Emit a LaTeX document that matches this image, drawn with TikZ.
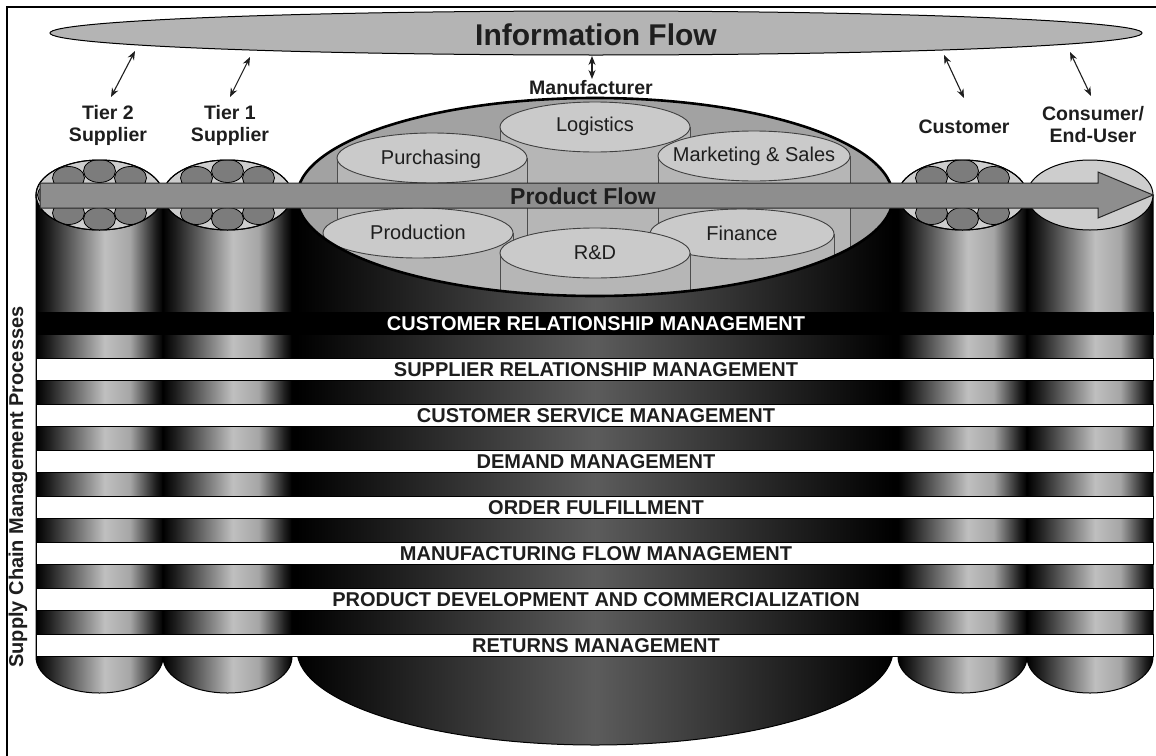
\documentclass[tikz,border=0pt]{standalone}
\usepackage{fontspec}
\setmainfont{Liberation Sans}
\usetikzlibrary{arrows.meta}
\pgfdeclarehorizontalshading{smallcylshade}{100bp}{color(0bp)=(black); color(25bp)=(black); color(30bp)=(black!88); color(52bp)=(black!25); color(62bp)=(black!35); color(72bp)=(black!88); color(75bp)=(black); color(100bp)=(black)}
\pgfdeclarehorizontalshading{bigcylshade}{100bp}{color(0bp)=(black); color(25bp)=(black); color(50bp)=(black!64); color(75bp)=(black); color(100bp)=(black)}
\definecolor{infogray}{HTML}{B4B4B4}
\definecolor{mantop}{HTML}{A2A2A2}
\definecolor{silotopc}{HTML}{CACACA}
\definecolor{silobodyc}{HTML}{B6B6B6}
\definecolor{captop}{HTML}{CDCDCD}
\definecolor{capcircle}{HTML}{7C7C7C}
\definecolor{flowgray}{HTML}{8E8E8E}
\definecolor{txtdark}{HTML}{1E1E1E}
\tikzset{
  flowarrow/.style={{Stealth[length=9pt,width=7pt]}-{Stealth[length=9pt,width=7pt]}, line width=1.1pt, draw=txtdark},
  actorlabel/.style={inner sep=0pt, align=center, text=txtdark, font=\fontsize{19.5}{22}\selectfont\bfseries},
  silolabel/.style={inner sep=0pt, text=txtdark, font=\fontsize{20}{22}\selectfont},
  bandbox/.style={draw=black, line width=1pt, fill=white},
  bandlabel/.style={inner sep=0pt, text=txtdark, font=\fontsize{20}{22}\selectfont\bfseries},
  cylbody/.style={draw=black, line width=1pt},
  captopstyle/.style={fill=captop, draw=black, line width=1pt},
  capcirc/.style={fill=capcircle, draw=black, line width=0.8pt},
  silobody/.style={fill=silobodyc, draw=black!70, line width=0.8pt},
  silotop/.style={fill=silotopc, draw=black!75, line width=0.9pt},
}
\begin{document}
\begin{tikzpicture}[x=1pt,y=-1pt]
\useasboundingbox (0,0) rectangle (1156,755);
\clip (0,0) rectangle (1156,755);
\fill[white] (0,0) rectangle (1156,755);
% frame
\draw[line width=1.6pt, black] (7,7) rectangle (1170,770);

% information flow ellipse
\filldraw[fill=infogray, draw=black, line width=1pt] (596,33) ellipse[x radius=546, y radius=22];
\node[inner sep=0pt, text=txtdark, font=\fontsize{30}{32}\selectfont\bfseries] (info) at (596,35) {Information Flow};

% dark gaps between cylinders
\fill[black] (289,200) rectangle (300,657);
\fill[black] (890,200) rectangle (899,657);

% small cylinders bodies
\foreach \xa/\xb in {36/163, 163/292, 898/1027, 1027/1153}{
  \pgfmathsetmacro\rx{(\xb-\xa)/2}
  \path[shading=smallcylshade, cylbody] (\xa,195) -- (\xa,657) arc[start angle=180, end angle=0, x radius=\rx, y radius=36] -- (\xb,195) -- cycle;
}
% small cylinder tops with inner cylinders
\foreach \xa/\xb in {36/163, 163/292, 898/1027}{
  \pgfmathsetmacro\rx{(\xb-\xa)/2}
  \pgfmathsetmacro\cx{(\xb+\xa)/2}
  \filldraw[captopstyle] (\cx,195) ellipse[x radius=\rx, y radius=35];
  \begin{scope}
    \clip (\cx,195) ellipse[x radius=\rx, y radius=35];
    \foreach \dx/\dy in {-31/-17, 0/-24, 31/-17, -31/18, 0/24, 31/18, -46/0, 46/0, 0/0}{
      \filldraw[capcirc] (\cx+\dx,195+\dy) ellipse[x radius=16, y radius=11.5];
    }
  \end{scope}
  \draw[black, line width=1pt] (\cx,195) ellipse[x radius=\rx, y radius=35];
}
\filldraw[captopstyle] (1090,195) ellipse[x radius=63, y radius=35];

% manufacturer cylinder
\path[shading=bigcylshade, cylbody] (297,197) -- (297,650) arc[start angle=180, end angle=0, x radius=298, y radius=95] -- (893,197) -- cycle;
\filldraw[fill=mantop, draw=black, line width=1pt] (595,197) ellipse[x radius=298, y radius=99];
\begin{scope}
  \clip (595,197) ellipse[x radius=297, y radius=98];
  \foreach \cx/\cy/\rx in {595/127/95, 432/158/95, 754/156/96, 418/233/95, 742/234/92, 595/253/95}{
    \filldraw[silobody] (\cx-\rx,\cy) rectangle (\cx+\rx,\cy+220);
    \filldraw[silotop] (\cx,\cy) ellipse[x radius=\rx, y radius=25];
  }
\end{scope}
\draw[black, line width=2.6pt] (595,197) ellipse[x radius=298, y radius=99];
\node[silolabel] (logi) at (595,126) {Logistics};
\node[silolabel] (purch) at (431,159) {Purchasing};
\node[silolabel] (mkt) at (754,156) {Marketing \& Sales};
\node[silolabel] (prod) at (418,232) {Production};
\node[silolabel] (fin) at (742,233) {Finance};
\node[silolabel] (rnd) at (595,253) {R\&D};

% product flow arrow
\filldraw[fill=flowgray, draw=black!85, line width=1pt] (40,183) -- (1098,183) -- (1098,172) -- (1153,195) -- (1098,218) -- (1098,208) -- (40,208) -- cycle;
\node[inner sep=0pt, text=txtdark, font=\fontsize{23}{25}\selectfont\bfseries] (pflow) at (583,196) {Product Flow};

% process bands
\filldraw[draw=black, line width=1pt, fill=black] (36,312) rectangle (1153,334);
\node[bandlabel, text=white] (crm) at (596,324) {CUSTOMER RELATIONSHIP MANAGEMENT};
\foreach \y/\t/\n in {358/SUPPLIER RELATIONSHIP MANAGEMENT/srm, 404/CUSTOMER SERVICE MANAGEMENT/csm, 450/DEMAND MANAGEMENT/dm, 496/ORDER FULFILLMENT/of, 542/MANUFACTURING FLOW MANAGEMENT/mfm, 588/PRODUCT DEVELOPMENT AND COMMERCIALIZATION/pdc, 634/RETURNS MANAGEMENT/rm}{
  \filldraw[bandbox] (36,\y) rectangle (1153,\y+22);
  \node[bandlabel] (\n) at (596,\y+12) {\t};
}

% side label
\node[inner sep=0pt, rotate=90, text=txtdark, font=\fontsize{20}{22}\selectfont\bfseries] (scm) at (18,487) {Supply Chain Management Processes};

% actor labels
\node[actorlabel] (t2) at (108,125) {Tier 2\\Supplier};
\node[actorlabel] (t1) at (230,125) {Tier 1\\Supplier};
\node[actorlabel] (man) at (591,88) {Manufacturer};
\node[actorlabel] (cus) at (964,127) {Customer};
\node[actorlabel] (con) at (1093,125) {Consumer/\\End-User};

% information arrows
\coordinate (a1s) at (135,51); \coordinate (a1e) at (111,97);
\coordinate (a2s) at (250,57); \coordinate (a2e) at (230,97);
\coordinate (a3s) at (592,56); \coordinate (a3e) at (592,79);
\coordinate (a4s) at (944,55); \coordinate (a4e) at (964,98);
\coordinate (a5s) at (1070,52); \coordinate (a5e) at (1091,96);
\draw[flowarrow] (a1s) -- (a1e);
\draw[flowarrow] (a2s) -- (a2e);
\draw[flowarrow] (a3s) -- (a3e);
\draw[flowarrow] (a4s) -- (a4e);
\draw[flowarrow] (a5s) -- (a5e);
\end{tikzpicture}
\end{document}
